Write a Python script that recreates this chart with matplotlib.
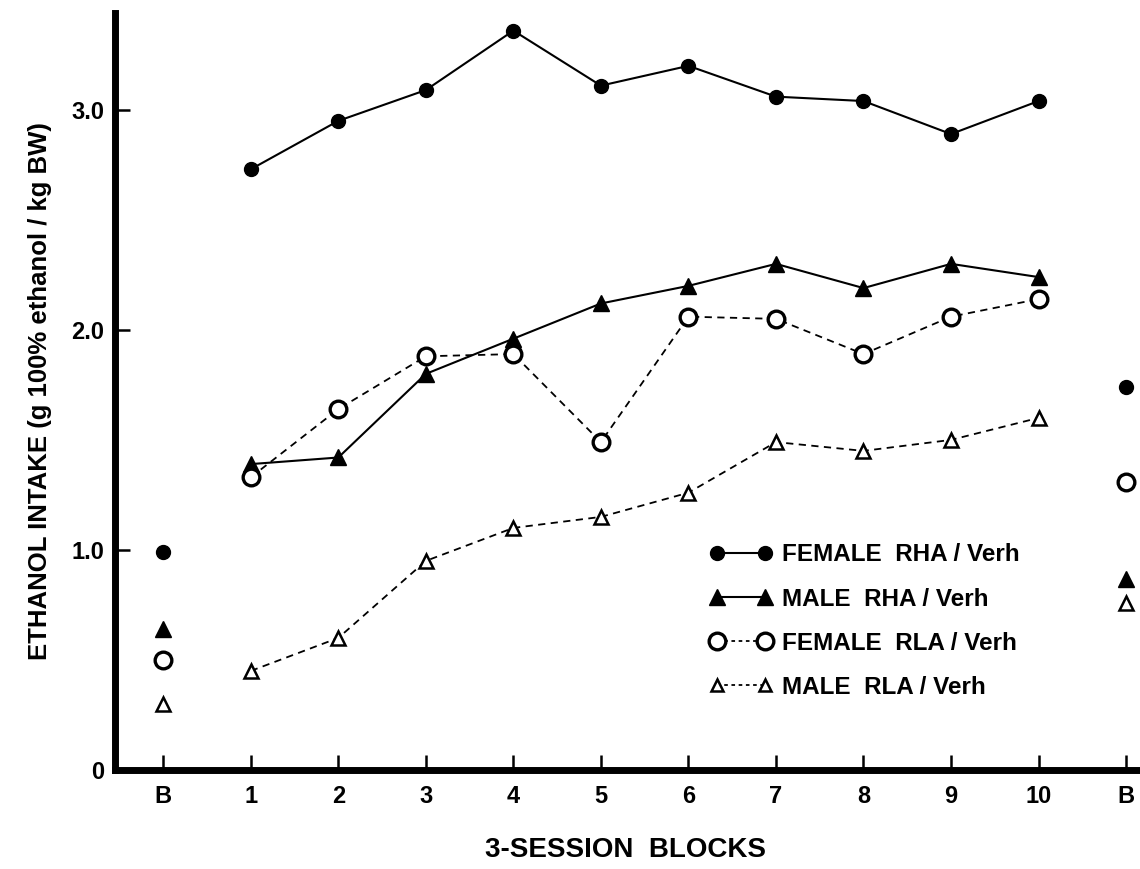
import numpy as np
import matplotlib
matplotlib.use("Agg")
import matplotlib.pyplot as plt

plt.rcParams['font.family'] = ['Liberation Sans', 'DejaVu Sans']
plt.rcParams['font.weight'] = 'bold'

# x positions: B (baseline), blocks 1-10, B (post)
block_labels = ["B", "1", "2", "3", "4", "5", "6", "7", "8", "9", "10", "B"]
blocks = list(range(1, 11))

# ethanol intake per 3-session block
female_rha = [2.73, 2.95, 3.09, 3.36, 3.11, 3.20, 3.06, 3.04, 2.89, 3.04]
male_rha = [1.39, 1.42, 1.80, 1.96, 2.12, 2.20, 2.30, 2.19, 2.30, 2.24]
female_rla = [1.33, 1.64, 1.88, 1.89, 1.49, 2.06, 2.05, 1.89, 2.06, 2.14]
male_rla = [0.45, 0.60, 0.95, 1.10, 1.15, 1.26, 1.49, 1.45, 1.50, 1.60]

# baseline values (left B) and post values (right B)
base_pre = {"female_rha": 0.99, "male_rha": 0.64, "female_rla": 0.50, "male_rla": 0.30}
base_post = {"female_rha": 1.74, "male_rha": 0.87, "female_rla": 1.31, "male_rla": 0.76}

styles = {
    "female_rha": dict(marker="o", ms=10, mfc="black", mec="black", ls="-", lw=1.5),
    "male_rha": dict(marker="^", ms=11, mfc="black", mec="black", ls="-", lw=1.5),
    "female_rla": dict(marker="o", ms=12, mfc="white", mec="black", mew=2.4, ls=(0, (4, 3)), lw=1.3),
    "male_rla": dict(marker="^", ms=10, mfc="white", mec="black", mew=1.8, ls=(0, (4, 3)), lw=1.3),
}
labels = {
    "female_rha": "FEMALE  RHA / Verh",
    "male_rha": "MALE  RHA / Verh",
    "female_rla": "FEMALE  RLA / Verh",
    "male_rla": "MALE  RLA / Verh",
}
series = {"female_rha": female_rha, "male_rha": male_rha,
          "female_rla": female_rla, "male_rla": male_rla}

fig = plt.figure(figsize=(11.4, 8.69), dpi=100)
ax = fig.add_axes([0.101, 0.114, 0.896, 0.871])

for key in ["female_rha", "male_rha", "female_rla", "male_rla"]:
    st = styles[key]
    ax.plot(blocks, series[key], color="black", **st, zorder=3)
    pt = dict(st)
    pt["ls"] = "none"
    ax.plot([0, 11], [base_pre[key], base_post[key]], color="black", **pt, zorder=3)

# legend handles: two markers joined by a line
leg_handles = []
for key in ["female_rha", "male_rha", "female_rla", "male_rla"]:
    st = dict(styles[key])
    if key in ("female_rla", "male_rla"):
        st["ls"] = (0, (2, 2))
    if key == "male_rla":
        st["ms"] = 8
    h, = ax.plot([], [], color="black", **st)
    leg_handles.append(h)

ax.legend(leg_handles, [labels[k] for k in labels], loc="upper left",
          bbox_to_anchor=(0.6224, 0.3746), bbox_transform=fig.transFigure,
          frameon=False, numpoints=2, handlelength=2.6, handletextpad=0.4,
          labelspacing=0.87, fontsize=17.5, borderpad=0, borderaxespad=0)

ax.set_xlim(-0.55, 11.12)
ax.set_ylim(0, 3.44)
ax.set_xticks(range(12))
ax.set_xticklabels(block_labels)
ax.set_yticks([0, 1, 2, 3])
ax.set_yticklabels(["0", "1.0", "2.0", "3.0"])

for s in ["top", "right"]:
    ax.spines[s].set_visible(False)
for s in ["left", "bottom"]:
    ax.spines[s].set_linewidth(5)

ax.tick_params(axis="both", direction="in", length=11, width=1.8, labelsize=17)
ax.tick_params(axis="x", pad=11)
ax.tick_params(axis="y", pad=8)

ax.set_xlabel("3-SESSION  BLOCKS", fontsize=20, fontweight="bold", labelpad=21)
ax.set_ylabel("ETHANOL INTAKE (g 100% ethanol / kg BW)", fontsize=18.5, fontweight="bold", labelpad=14)

fig.savefig("out.png", dpi=100)
